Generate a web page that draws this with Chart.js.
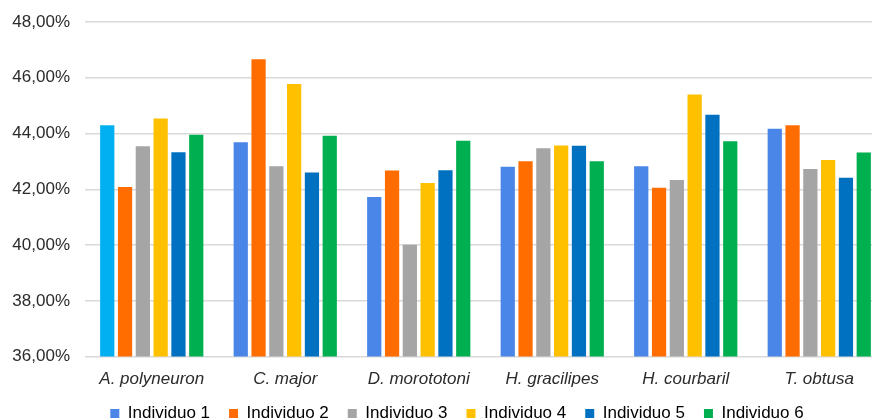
<!DOCTYPE html>
<html>
<head>
<meta charset="utf-8">
<script src="https://cdn.jsdelivr.net/npm/chart.js@4/dist/chart.umd.min.js"></script>
<style>
  html, body { margin: 0; padding: 0; background: #ffffff; overflow: hidden; }
  #wrap { position: relative; width: 888px; height: 420px; }
</style>
</head>
<body>
<div id="wrap"><canvas id="chart"></canvas></div>
<script>
// Species on the x axis
const species = ['A. polyneuron', 'C. major', 'D. morototoni', 'H. gracilipes', 'H. courbaril', 'T. obtusa'];

// Percentage per individual (one array per individual, in species order)
const individuo1 = [44.30, 43.69, 41.72, 42.81, 42.83, 44.17];
const individuo2 = [42.08, 46.66, 42.67, 43.01, 42.06, 44.30];
const individuo3 = [43.54, 42.83, 40.01, 43.47, 42.33, 42.73];
const individuo4 = [44.54, 45.78, 42.23, 43.57, 45.40, 43.05];
const individuo5 = [43.33, 42.60, 42.68, 43.56, 44.67, 42.41];
const individuo6 = [43.96, 43.92, 43.74, 43.01, 43.72, 43.32];

const seriesNames = ['Individuo 1', 'Individuo 2', 'Individuo 3', 'Individuo 4', 'Individuo 5', 'Individuo 6'];
const seriesValues = [individuo1, individuo2, individuo3, individuo4, individuo5, individuo6];
const seriesColors = ['#4a86e8', '#ff6d01', '#a5a5a5', '#ffc000', '#0070c0', '#00b050'];
const firstBarColor = '#00b0f0';

// Y axis range
const yMin = 36;
const yMax = 48;
const yStep = 2;

const FONT = "'Liberation Sans', Arial, sans-serif";
const TEXT_COLOR = '#2b2b2b';

const datasets = seriesNames.map((name, i) => ({
  label: name,
  data: seriesValues[i],
  backgroundColor: i === 0
    ? (ctx) => (ctx.dataIndex === 0 ? firstBarColor : seriesColors[0])
    : seriesColors[i],
  borderWidth: 0,
  categoryPercentage: 0.8,
  barPercentage: 0.8
}));

// Pull the legend row up under the category labels and a bit to the right
const legendNudge = {
  id: 'legendNudge',
  afterLayout(chart) {
    const lg = chart.legend;
    if (lg) {
      lg.top -= 15;
      lg.left += 8;
      lg.right += 8;
    }
  }
};

new Chart(document.getElementById('chart'), {
  type: 'bar',
  data: { labels: species, datasets },
  plugins: [legendNudge],
  options: {
    responsive: true,
    maintainAspectRatio: false,
    animation: false,
    layout: { padding: { top: 22, right: 2, left: 12, bottom: 0 } },
    plugins: {
      tooltip: { enabled: false },
      legend: {
        position: 'bottom',
        maxHeight: 19,
        labels: {
          font: { family: FONT, size: 17 },
          color: TEXT_COLOR,
          boxWidth: 9,
          boxHeight: 9,
          padding: 19,
          generateLabels: () => seriesNames.map((name, i) => ({
            text: name,
            fillStyle: seriesColors[i],
            strokeStyle: seriesColors[i],
            lineWidth: 0,
            datasetIndex: i,
            hidden: false
          }))
        }
      }
    },
    scales: {
      x: {
        afterFit: (scale) => { scale.paddingLeft = 0; scale.paddingRight = 0; },
        grid: { display: false, drawTicks: false },
        border: { display: false },
        ticks: {
          font: { family: FONT, size: 17, style: 'italic' },
          color: TEXT_COLOR,
          padding: 12,
          maxRotation: 0
        }
      },
      y: {
        min: yMin,
        max: yMax,
        afterFit: (scale) => {
          scale.width = 73;
          scale.paddingTop = 0;
          scale.paddingBottom = 0;
        },
        grid: { color: '#d9d9d9', lineWidth: 1.5, drawTicks: false },
        border: { display: false },
        ticks: {
          stepSize: yStep,
          font: { family: FONT, size: 17 },
          color: TEXT_COLOR,
          padding: 15,
          callback: (v) => v.toFixed(2).replace('.', ',') + '%'
        }
      }
    }
  }
});
</script>
</body>
</html>
